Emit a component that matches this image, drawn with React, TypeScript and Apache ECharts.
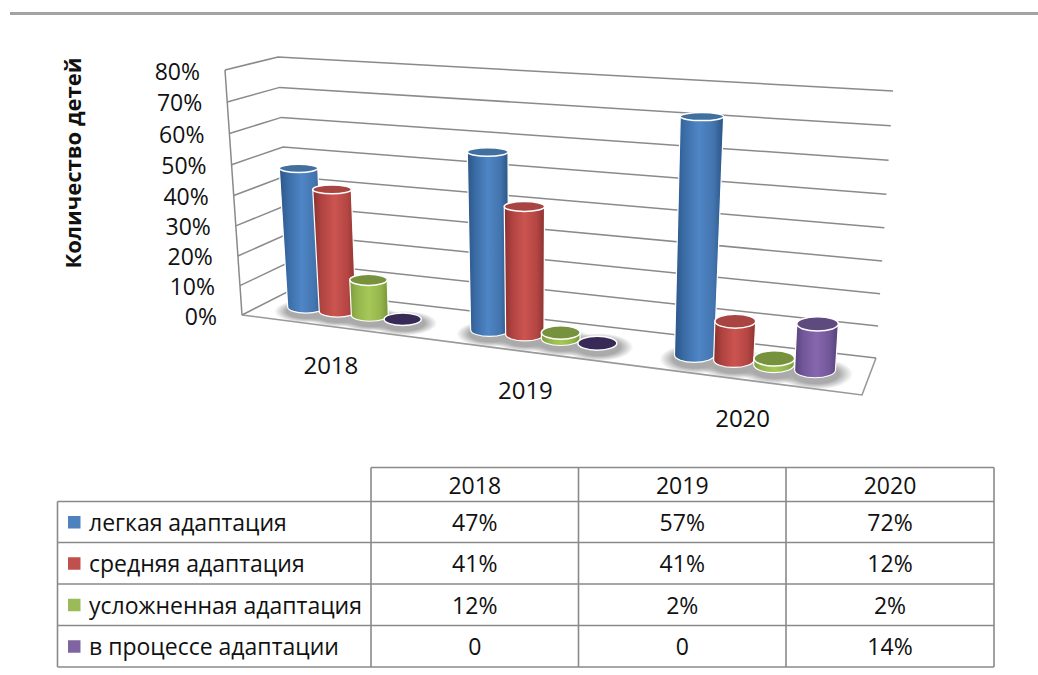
import React, { useEffect, useRef } from "react";
import * as echarts from "echarts";

const categories = ["2018", "2019", "2020"];
const seriesNames = ["легкая адаптация", "средняя адаптация", "усложненная адаптация", "в процессе адаптации"];
const easy = [47, 57, 72];
const medium = [41, 41, 12];
const complicated = [12, 2, 2];
const inProcess = [0, 0, 14];
const allValues = [easy, medium, complicated, inProcess];
const yTicks = [0, 10, 20, 30, 40, 50, 60, 70, 80];
const yAxisName = "Количество детей";

const FONT = '"Open Sans", sans-serif';
const GRID_COLOR = "#8a8a8a";

const palettes = [
  { stops: ["#2b5688", "#3b6ca6", "#4f86c6", "#4374ae", "#2a5483"], top: "#41709f", flat: "#2f5580", swatch: "#4f81bd" },
  { stops: ["#8a302e", "#b04340", "#cb5450", "#b54643", "#8c3331"], top: "#a84442", flat: "#7d2e2c", swatch: "#c0504d" },
  { stops: ["#7d9c3e", "#94b54c", "#a6c858", "#94b54c", "#77963a"], top: "#76923c", flat: "#76923c", swatch: "#9bbb59" },
  { stops: ["#57427a", "#72579a", "#8766ae", "#72579a", "#54407a"], top: "#5f4a80", flat: "#382a56", swatch: "#8064a2" },
];

// corners of the perspective box: front/back, left/right, floor/top
const corners = {
  fl0: [242, 315], fr0: [862, 395], bl0: [291, 290], br0: [876, 358],
  fl1: [225, 70], fr1: [881, 107], bl1: [278, 57], br1: [893, 91],
};
const warp = (t: number, k: number) => t / (k - (k - 1) * t);
const lerp = (a: number, b: number, t: number) => a + (b - a) * t;
const project = (t: number, depth: number, vf: number) => {
  const w = warp(t, 1.18);
  const h = warp(vf, 1.05);
  const out = [0, 0];
  for (const i of [0, 1]) {
    const floor = lerp(lerp(corners.fl0[i], corners.fr0[i], w), lerp(corners.bl0[i], corners.br0[i], w), depth);
    const top = lerp(lerp(corners.fl1[i], corners.fr1[i], w), lerp(corners.bl1[i], corners.br1[i], w), depth);
    out[i] = lerp(floor, top, h);
  }
  return out;
};

const gridBox = { left: 240, top: 70, width: 640, height: 245 };
const norm = (params: any, pt: number[]) => {
  const c = params.coordSys;
  return [(pt[0] - c.x) / c.width, 1 - (pt[1] - c.y) / c.height];
};
const BAR_STEP = 0.18;
const BAR_SHIFT = -0.2;

const barGeometry = (params: any, api: any, j: number) => {
  const cat = api.value(0);
  const val = api.value(1);
  const band = api.size([1, 0])[0];
  const p = api.coord([cat, val]);
  const n = norm(params, [p[0] + (j - 1.5) * BAR_STEP * band, p[1]]);
  const t = n[0];
  const vf = n[1];
  const w = warp(t, 1.18);
  const base = project(t, 0.5, 0);
  const top = project(t, 0.5, vf);
  base[0] += BAR_SHIFT;
  top[0] += BAR_SHIFT;
  const rx = 18 + 2.7 * w;
  const ry = 5.6 + 2.5 * w;
  return {
    val, base, top,
    rx0: rx, ry0: ry,
    rx1: rx * (1 + 0.1 * vf), ry1: ry * (1 - 0.5 * vf),
  };
};

const shadowItem = (j: number) => (params: any, api: any) => {
  const g = barGeometry(params, api, j);
  return {
    type: "ellipse",
    silent: true,
    shape: { cx: g.base[0] + 1, cy: g.base[1] + 4, rx: g.rx0 * 1.8, ry: g.ry0 * 2.0 },
    style: {
      fill: new echarts.graphic.RadialGradient(0.5, 0.5, 0.5, [
        { offset: 0, color: "rgba(170,170,170,1)" },
        { offset: 0.62, color: "rgba(170,170,170,1)" },
        { offset: 1, color: "rgba(170,170,170,0)" },
      ]),
    },
  };
};

const barItem = (j: number) => (params: any, api: any) => {
  const g = barGeometry(params, api, j);
  const pal = palettes[j];
  const children: any[] = [];
  if (g.val > 0) {
    const d =
      `M${g.base[0] - g.rx0} ${g.base[1]} L${g.top[0] - g.rx1} ${g.top[1]} ` +
      `L${g.top[0] + g.rx1} ${g.top[1]} L${g.base[0] + g.rx0} ${g.base[1]} ` +
      `A${g.rx0} ${g.ry0} 0 0 1 ${g.base[0] - g.rx0} ${g.base[1]} Z`;
    const off = [0, 0.2, 0.5, 0.8, 1];
    children.push({
      type: "path",
      shape: { pathData: d },
      style: {
        fill: new echarts.graphic.LinearGradient(0, 0, 1, 0, pal.stops.map((color, i) => ({ offset: off[i], color }))),
        stroke: "#ffffff",
        lineWidth: 1.2,
      },
    });
  }
  children.push({
    type: "ellipse",
    shape: { cx: g.top[0], cy: g.top[1], rx: g.rx1, ry: g.ry1 },
    style: { fill: g.val === 0 ? pal.flat : pal.top, stroke: "#ffffff", lineWidth: 1.5 },
  });
  return { type: "group", silent: true, children };
};

const wallItem = (params: any, api: any) => {
  const tick = api.value(1);
  const vf = norm(params, api.coord([0, tick]))[1];
  const a = project(0, 0, vf);
  const b = project(0, 1, vf);
  const c = project(1, 1, vf);
  const children: any[] = [
    {
      type: "polyline",
      shape: { points: [a, b, c] },
      style: { fill: "none", stroke: GRID_COLOR, lineWidth: 1.5 },
    },
    {
      type: "text",
      style: {
        text: `${tick}%`, x: a[0] - 25, y: a[1] + 0.5,
        align: "right", verticalAlign: "middle",
        fontFamily: FONT, fontSize: 23, fill: "#111",
      },
    },
  ];
  return { type: "group", silent: true, children };
};

const frameItem = () => {
  const fl0 = project(0, 0, 0), fr0 = project(1, 0, 0), br0 = project(1, 1, 0), fl1 = project(0, 0, 1);
  return {
    type: "group",
    silent: true,
    children: [
      { type: "polyline", shape: { points: [fl0, fr0, br0] }, style: { fill: "none", stroke: "#999999", lineWidth: 1.6 } },
      { type: "line", shape: { x1: fl0[0], y1: fl0[1], x2: fl1[0], y2: fl1[1] }, style: { stroke: GRID_COLOR, lineWidth: 1.5 } },
    ],
  };
};

const categoryLabelItem = (params: any, api: any) => {
  const p = api.coord([api.value(0), 0]);
  const t = norm(params, p)[0];
  const a = project(t, 0, 0);
  return {
    type: "text",
    silent: true,
    style: {
      text: categories[api.value(0)], x: a[0] - 1, y: a[1] + 37.5,
      align: "center", verticalAlign: "middle",
      fontFamily: FONT, fontSize: 24, fill: "#111",
    },
  };
};

const tableX = [57.5, 371, 578.5, 786, 994];
const tableY = [467.5, 501.5, 542.5, 584, 625.5, 667];
const tableGraphics = () => {
  const els: any[] = [];
  const line = (x1: number, y1: number, x2: number, y2: number) =>
    els.push({ type: "line", silent: true, shape: { x1, y1, x2, y2 }, style: { stroke: GRID_COLOR, lineWidth: 1.6 } });
  tableY.forEach((y, i) => line(i === 0 ? tableX[1] : tableX[0], y, tableX[4], y));
  tableX.forEach((x, i) => line(x, i === 0 ? tableY[1] : tableY[0], x, tableY[5]));
  const txt = (text: string, x: number, y: number, align: string) =>
    els.push({
      type: "text", silent: true, x, y,
      style: { text, align, verticalAlign: "middle", fontFamily: FONT, fontSize: 23, fill: "#111" },
    });
  categories.forEach((c, i) => txt(c, (tableX[i + 1] + tableX[i + 2]) / 2, (tableY[0] + tableY[1]) / 2 + 0.5, "center"));
  seriesNames.forEach((name, r) => {
    const cy = (tableY[r + 1] + tableY[r + 2]) / 2;
    els.push({
      type: "rect", silent: true,
      shape: { x: 68, y: cy - 6, width: 12.5, height: 12.5 },
      style: { fill: palettes[r].swatch },
    });
    txt(name, 89, cy, "left");
    allValues[r].forEach((v, i) =>
      txt(v === 0 ? "0" : `${v}%`, (tableX[i + 1] + tableX[i + 2]) / 2, cy, "center"));
  });
  els.push({ type: "rect", silent: true, shape: { x: 10, y: 12, width: 1028, height: 3 }, style: { fill: "#a3a3a3" } });
  els.push({
    type: "text", silent: true, x: 72, y: 163, rotation: Math.PI / 2,
    style: { text: yAxisName, align: "center", verticalAlign: "middle", fontFamily: FONT, fontSize: 22, fontWeight: "bold", fill: "#111" },
  });
  return els;
};

export default function App() {
  const ref = useRef<HTMLDivElement>(null);
  useEffect(() => {
    document.body.style.margin = "0";
    const chart = echarts.init(ref.current!, null, { renderer: "svg" });
    const series: any[] = [
      { type: "custom", name: "frame", z: 1, clip: false, data: [[0, 0]], renderItem: frameItem },
      { type: "custom", name: "walls", z: 1, clip: false, data: yTicks.map((t) => [0, t]), encode: { x: 0, y: 1 }, renderItem: wallItem },
      { type: "custom", name: "categories", z: 1, clip: false, data: categories.map((_, i) => [i, 0]), encode: { x: 0, y: 1 }, renderItem: categoryLabelItem },
    ];
    allValues.forEach((vals, j) => {
      const data = vals.map((v, i) => [i, v]);
      series.push({ type: "custom", name: seriesNames[j] + " shadow", z: 2, clip: false, data, encode: { x: 0, y: 1 }, renderItem: shadowItem(j) });
    });
    allValues.forEach((vals, j) => {
      const data = vals.map((v, i) => [i, v]);
      series.push({ type: "custom", name: seriesNames[j], z: 3 + j, clip: false, data, encode: { x: 0, y: 1 }, renderItem: barItem(j) });
    });
    chart.setOption({
      animation: false,
      backgroundColor: "#ffffff",
      grid: gridBox,
      xAxis: { type: "category", data: categories, show: false },
      yAxis: { type: "value", min: 0, max: 80, interval: 10, show: false },
      series,
      graphic: { elements: tableGraphics() },
    });
    return () => chart.dispose();
  }, []);
  return <div ref={ref} style={{ width: 1038, height: 675 }} />;
}
